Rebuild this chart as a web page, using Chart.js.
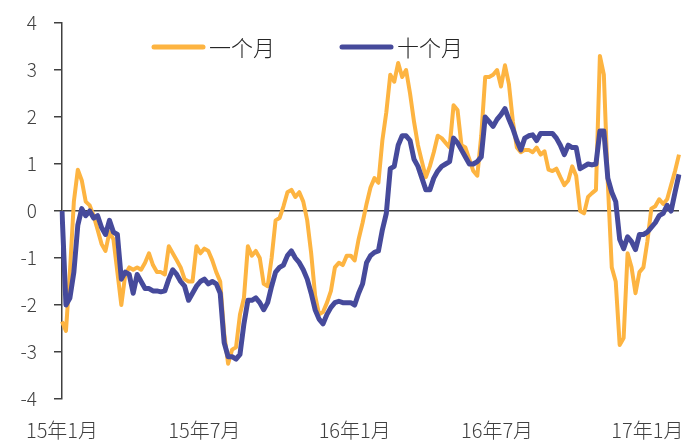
<!DOCTYPE html>
<html>
<head>
<meta charset="utf-8">
<script src="https://cdn.jsdelivr.net/npm/chart.js@4.4.1/dist/chart.umd.min.js"></script>
<style>
  html, body { margin: 0; padding: 0; background: #fff; }
  #wrap { width: 698px; height: 443px; }
</style>
</head>
<body>
<div id="wrap"><canvas id="chart" width="698" height="443"></canvas></div>
<script>
// x-axis labels and the sample index each one sits on
const tickLabels = ['15年1月', '15年7月', '16年1月', '16年7月', '17年1月'];
const tickIndex = [0, 36, 74, 110, 148];

// 一个月
const oneMonth = [
  -2.35, -2.55, -1.3, 0.2, 0.88, 0.65, 0.2, 0.12, -0.1, -0.4,
  -0.7, -0.85, -0.45, -0.6, -1.3, -2.0, -1.35, -1.2, -1.25, -1.2,
  -1.25, -1.1, -0.9, -1.15, -1.3, -1.3, -1.35, -0.75, -0.9, -1.05,
  -1.2, -1.45, -1.5, -1.5, -0.75, -0.9, -0.8, -0.85, -1.05, -1.3,
  -1.5, -2.6, -3.25, -2.95, -2.9, -2.2, -1.85, -0.75, -0.95, -0.85,
  -1.0, -1.55, -1.6, -1.0, -0.2, -0.15, 0.1, 0.4, 0.45, 0.3,
  0.4, 0.2, -0.2, -0.9, -1.8, -2.2, -2.15, -1.95, -1.7, -1.2,
  -1.1, -1.15, -0.95, -0.95, -1.05, -0.6, -0.25, 0.15, 0.5, 0.7,
  0.6, 1.5, 2.1, 2.9, 2.75, 3.15, 2.85, 3.0, 2.5, 1.9,
  1.4, 1.05, 0.72, 0.95, 1.25, 1.6, 1.55, 1.45, 1.35, 2.25,
  2.15, 1.4, 1.35, 1.1, 0.85, 0.75, 1.6, 2.85, 2.85, 2.9,
  3.0, 2.65, 3.1, 2.7, 1.9, 1.35, 1.25, 1.3, 1.3, 1.25,
  1.35, 1.2, 1.27, 0.88, 0.85, 0.9, 0.72, 0.55, 0.65, 0.95,
  0.75, 0.0, -0.05, 0.3, 0.38, 0.45, 3.3, 2.9, 0.6, -1.2,
  -1.5, -2.85, -2.7, -0.9, -1.2, -1.75, -1.3, -1.2, -0.65, 0.05,
  0.1, 0.25, 0.15, 0.25, 0.55, 0.85, 1.2
];

// 十个月
const tenMonth = [
  0.0, -2.0, -1.85, -1.3, -0.3, 0.05, -0.1, 0.0, -0.15, -0.1,
  -0.35, -0.5, -0.2, -0.45, -0.5, -1.45, -1.3, -1.35, -1.75, -1.35,
  -1.5, -1.65, -1.65, -1.7, -1.7, -1.72, -1.7, -1.45, -1.25, -1.35,
  -1.5, -1.6, -1.9, -1.75, -1.6, -1.5, -1.45, -1.55, -1.5, -1.55,
  -1.75, -2.8, -3.1, -3.1, -3.15, -3.05, -2.4, -1.9, -1.9, -1.85,
  -1.95, -2.1, -1.95, -1.6, -1.3, -1.2, -1.15, -0.95, -0.85, -1.0,
  -1.1, -1.25, -1.45, -1.75, -2.1, -2.3, -2.4, -2.2, -2.05, -1.95,
  -1.92, -1.95, -1.95, -1.95, -2.0, -1.75, -1.55, -1.1, -0.95, -0.88,
  -0.85, -0.4, -0.05, 0.9, 0.95, 1.4, 1.6, 1.6, 1.5, 1.1,
  0.95, 0.7, 0.45, 0.45, 0.7, 0.85, 0.95, 1.0, 1.05, 1.55,
  1.45, 1.3, 1.15, 1.0, 1.0, 1.05, 1.15, 2.0, 1.9, 1.8,
  1.95, 2.05, 2.18, 1.95, 1.75, 1.5, 1.3, 1.55, 1.6, 1.62,
  1.5, 1.65, 1.65, 1.65, 1.65, 1.55, 1.4, 1.2, 1.4, 1.35,
  1.35, 0.9, 0.95, 1.0, 0.98, 1.0, 1.7, 1.7, 0.7, 0.4,
  0.2, -0.6, -0.8, -0.55, -0.65, -0.82, -0.5, -0.5, -0.45, -0.35,
  -0.25, -0.1, -0.05, 0.12, 0.0, 0.4, 0.78
];

const labels = oneMonth.map((_, i) => {
  const k = tickIndex.indexOf(i);
  return k >= 0 ? tickLabels[k] : '';
});

const AXIS = '#404040';
const FONT = '"Noto Sans CJK SC", "Noto Sans", sans-serif';

// legend drawn inside the plot, like the original
const inlineLegend = {
  id: 'inlineLegend',
  afterDatasetsDraw(chart) {
    const ctx = chart.ctx;
    const spots = [152, 340];
    ctx.save();
    chart.data.datasets.forEach((ds, i) => {
      const x = spots[i];
      const y = 47;
      ctx.strokeStyle = ds.borderColor;
      ctx.lineWidth = 5;
      ctx.lineCap = 'round';
      ctx.beginPath();
      ctx.moveTo(x + 2, y);
      ctx.lineTo(x + 51, y);
      ctx.stroke();
      ctx.fillStyle = '#262626';
      ctx.font = '300 22px ' + FONT;
      ctx.textBaseline = 'middle';
      ctx.textAlign = 'left';
      ctx.fillText(ds.label, x + 57, y + 1);
    });
    ctx.restore();
  }
};

new Chart(document.getElementById('chart'), {
  type: 'line',
  data: {
    labels: labels,
    datasets: [
      {
        label: '一个月',
        data: oneMonth,
        borderColor: '#FDB441',
        borderWidth: 4,
        pointRadius: 0,
        tension: 0,
        borderJoinStyle: 'round',
        order: 2
      },
      {
        label: '十个月',
        data: tenMonth,
        borderColor: '#464A9B',
        borderWidth: 5,
        pointRadius: 0,
        tension: 0,
        borderJoinStyle: 'round',
        order: 1
      }
    ]
  },
  options: {
    responsive: false,
    animation: false,
    devicePixelRatio: 1,
    layout: { padding: { top: 23, right: 12, left: 0, bottom: 0 } },
    plugins: {
      legend: { display: false },
      tooltip: { enabled: false }
    },
    scales: {
      x: {
        type: 'category',
        offset: false,
        grid: { display: false, drawTicks: false },
        border: { display: false },
        ticks: {
          autoSkip: false,
          maxRotation: 0,
          minRotation: 0,
          padding: 19,
          color: AXIS,
          font: { family: FONT, size: 20, weight: '300' }
        },
        afterFit(scale) { scale.height = 44; }
      },
      y: {
        min: -4,
        max: 4,
        ticks: {
          stepSize: 1,
          padding: 17,
          color: AXIS,
          font: { family: FONT, size: 19, weight: '300' }
        },
        grid: {
          drawOnChartArea: true,
          drawTicks: true,
          tickLength: 8,
          lineWidth: 1.5,
          tickColor: AXIS,
          color: (c) => (c.tick && c.tick.value === 0 ? AXIS : 'rgba(0,0,0,0)')
        },
        border: { display: true, color: AXIS, width: 1.5 },
        afterFit(scale) {
          // keep the label padding from pushing the plot down
          scale.width = 62;
          scale.paddingTop = 0;
          scale.paddingBottom = 0;
        }
      }
    }
  },
  plugins: [inlineLegend]
});
</script>
</body>
</html>
